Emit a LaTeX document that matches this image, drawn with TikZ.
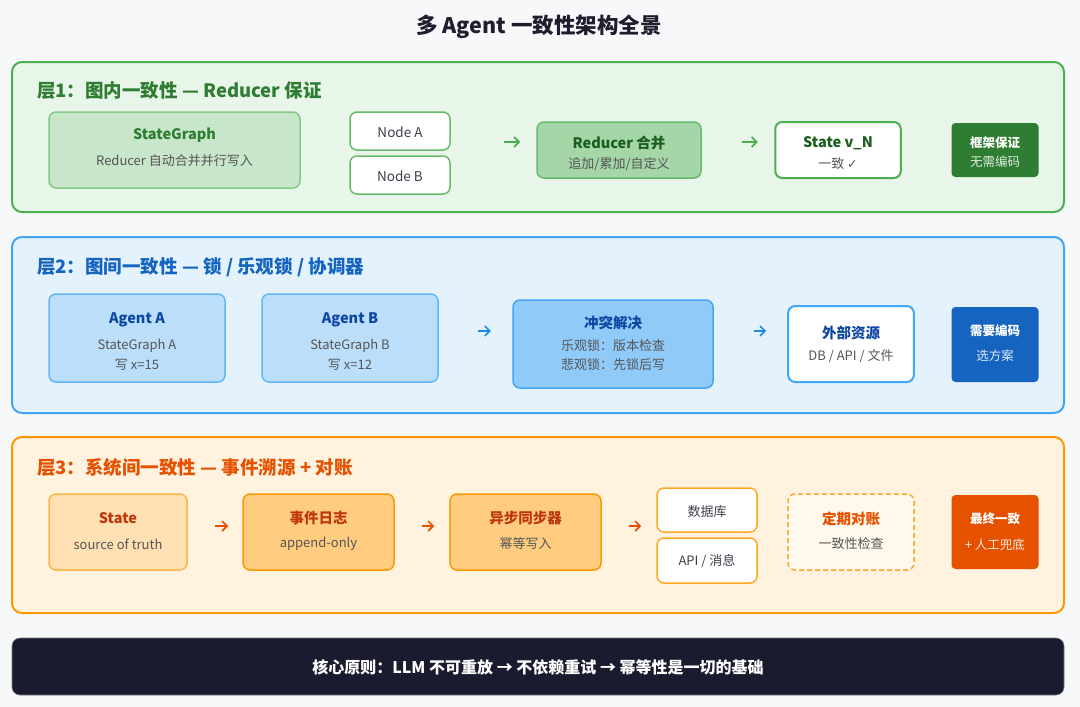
\documentclass[tikz,border=0pt]{standalone}
\usepackage{fontspec}
\setmainfont{Noto Sans CJK SC}
\newfontfamily\dejavu{DejaVu Sans}
\usetikzlibrary{arrows.meta}
\newcommand\fsz[1]{\fontsize{#1}{#1}\selectfont}
\definecolor{bgc}{HTML}{F7F8FA}
\definecolor{titlec}{HTML}{1E1E2E}
\definecolor{gray5}{HTML}{555555}
% green
\definecolor{gLfill}{HTML}{E8F5E9}
\definecolor{gLdraw}{HTML}{4CAF50}
\definecolor{gTitle}{HTML}{2E7D32}
\definecolor{gBox1}{HTML}{C8E6C9}
\definecolor{gBox2}{HTML}{A5D6A7}
\definecolor{gBord}{HTML}{66BB6A}
\definecolor{gDark}{HTML}{1B5E20}
% blue
\definecolor{bLfill}{HTML}{E3F2FD}
\definecolor{bLdraw}{HTML}{42A5F5}
\definecolor{bTitle}{HTML}{1565C0}
\definecolor{bBox1}{HTML}{BBDEFB}
\definecolor{bBox2}{HTML}{90CAF9}
\definecolor{bBord}{HTML}{64B5F6}
\definecolor{bDark}{HTML}{0D47A1}
\definecolor{bArr}{HTML}{1E88E5}
% orange
\definecolor{oLfill}{HTML}{FFF3E0}
\definecolor{oLdraw}{HTML}{FF9800}
\definecolor{oTitle}{HTML}{E65100}
\definecolor{oBox1}{HTML}{FFE0B2}
\definecolor{oBox2}{HTML}{FFCC80}
\definecolor{oBord}{HTML}{FFA726}
\definecolor{oDark}{HTML}{BF360C}
\definecolor{navy}{HTML}{1A1B2E}
\begin{document}
\begin{tikzpicture}[x=1pt,y=-1pt,
  layer/.style={rounded corners=10, line width=2, inner sep=0},
  box/.style={rounded corners=7, line width=1.5, inner sep=0},
  tagbox/.style={rounded corners=4, inner sep=0, draw=none},
  ltitle/.style={anchor=west, inner sep=0, font=\fsz{18.5}\bfseries},
  bt/.style={inner sep=0, font=\fsz{14.5}\bfseries},
  st/.style={inner sep=0, font=\fsz{13}, text=gray5},
  tt/.style={inner sep=0, font=\fsz{12.5}\bfseries, text=white},
  arrbase/.style={line width=1.6, -{Straight Barb[length=5pt,width=10pt]}},
  garr/.style={arrbase, draw=gLdraw},
  barr/.style={arrbase, draw=bArr},
  oarr/.style={arrbase, draw=oTitle}
]
\useasboundingbox (0,0) rectangle (1080,707);
\fill[bgc] (0,0) rectangle (1080,707);

% title
\node[inner sep=0, font=\fsz{21.5}\bfseries, text=titlec] (title) at (539,27) {多 Agent 一致性架构全景};

% ===== Layer 1 =====
\node[layer, fill=gLfill, draw=gLdraw, minimum width=1052, minimum height=150] (L1) at (538,137) {};
\node[ltitle, text=gTitle] (L1t) at (37,91) {层1：图内一致性 — Reducer 保证};

\node[box, fill=gBox1, draw=gBord!80, minimum width=251, minimum height=76] (sg) at (174.5,150) {};
\node[bt, text=gTitle] (sgt) at (174.5,135) {StateGraph};
\node[st] (sgs) at (174.5,160.5) {Reducer 自动合并并行写入};

\node[box, fill=white, draw=gBord, minimum width=100, minimum height=38] (na) at (400,131) {};
\node[inner sep=0, font=\fsz{13.5}, text=titlec!85] (nat) at (400,132.5) {Node A};
\node[box, fill=white, draw=gBord, minimum width=100, minimum height=38] (nb) at (400,175) {};
\node[inner sep=0, font=\fsz{13.5}, text=titlec!85] (nbt) at (400,176) {Node B};

\node[box, fill=gBox2, draw=gBord, minimum width=164, minimum height=56] (red) at (619,150) {};
\node[bt, text=gDark] (redt) at (619,143) {Reducer 合并};
\node[st] (reds) at (619,164) {追加/累加/自定义};

\node[box, fill=white, draw=gLdraw, line width=2, minimum width=125.5, minimum height=56] (sv) at (838,150) {};
\node[bt, text=gDark] (svt) at (838,143) {State v\_N};
\node[st] (svs) at (838,164) {一致 {\dejavu\fsz{12.5}✓}};

\node[tagbox, fill=gTitle, minimum width=87, minimum height=54] (fw) at (995,150) {};
\node[tt] (fwt) at (995,143) {框架保证};
\node[tt, font=\fsz{12.5}, text=white!85!gTitle] (fws) at (995,162) {无需编码};

\draw[garr, shorten <=53, shorten >=16] (na.east |- 0,142) -- (red.west |- 0,142);
\draw[garr, shorten <=40, shorten >=16.5] (red.east |- 0,142) -- (sv.west |- 0,142);

% ===== Layer 2 =====
\node[layer, fill=bLfill, draw=bLdraw, minimum width=1052, minimum height=176] (L2) at (538,325) {};
\node[ltitle, text=bTitle] (L2t) at (37,267) {层2：图间一致性 — 锁 / 乐观锁 / 协调器};

\node[box, fill=bBox1, draw=bBord, minimum width=176, minimum height=88] (aa) at (137,338) {};
\node[bt, text=bDark] (aat) at (137,320) {Agent A};
\node[st] (aas1) at (137,346) {StateGraph A};
\node[st] (aas2) at (137,365) {写 x=15};

\node[box, fill=bBox1, draw=bBord, minimum width=176, minimum height=88] (ab) at (350,338) {};
\node[bt, text=bDark] (abt) at (350,320) {Agent B};
\node[st] (abs1) at (350,346) {StateGraph B};
\node[st] (abs2) at (350,365) {写 x=12};

\node[box, fill=bBox2, draw=bLdraw, minimum width=200, minimum height=88] (cf) at (613,344) {};
\node[bt, text=bDark] (cft) at (613,323) {冲突解决};
\node[st] (cfs1) at (613,346) {乐观锁：版本检查};
\node[st] (cfs2) at (613,365) {悲观锁：先锁后写};

\node[box, fill=white, draw=bLdraw, line width=2, minimum width=125.6, minimum height=76] (ext) at (851,344) {};
\node[bt, text=bDark] (extt) at (851,333) {外部资源};
\node[st] (exts) at (851,356) {DB / API / 文件};

\node[tagbox, fill=bTitle, minimum width=87, minimum height=75] (nc) at (995,344.5) {};
\node[tt] (nct) at (995,331) {需要编码};
\node[tt, font=\fsz{12.5}, text=white!85!bTitle] (ncs) at (995,356) {选方案};

\draw[barr, shorten <=39.6, shorten >=21.3] (ab.east |- 0,331) -- (cf.west |- 0,331);
\draw[barr, shorten <=40, shorten >=21] (cf.east |- 0,331) -- (ext.west |- 0,331);

% ===== Layer 3 =====
\node[layer, fill=oLfill, draw=oLdraw, minimum width=1052, minimum height=176] (L3) at (538,525) {};
\node[ltitle, text=oTitle] (L3t) at (37,467) {层3：系统间一致性 — 事件溯源 + 对账};

\node[box, fill=oBox1, draw=oBord!85, minimum width=138, minimum height=76] (st) at (118,532) {};
\node[bt, text=oDark] (stt) at (118,518) {State};
\node[st] (sts) at (118,544) {source of truth};

\node[box, fill=oBox2, draw=oLdraw, minimum width=151, minimum height=76] (ev) at (318.5,532) {};
\node[bt, text=oDark] (evt) at (318.5,518) {事件日志};
\node[st] (evs) at (318.5,544) {append-only};

\node[box, fill=oBox2, draw=oLdraw, minimum width=151, minimum height=76] (sy) at (525.5,532) {};
\node[bt, text=oDark] (syt) at (525.5,518) {异步同步器};
\node[st] (sys) at (525.5,544) {幂等写入};

\node[box, fill=white, draw=oBord, minimum width=100, minimum height=44] (db) at (707,510) {};
\node[inner sep=0, font=\fsz{13}, text=titlec!85] (dbt) at (707,512) {数据库};
\node[box, fill=white, draw=oBord, minimum width=100, minimum height=45] (api) at (707,560.5) {};
\node[inner sep=0, font=\fsz{13}, text=titlec!85] (apit) at (707,561) {API / 消息};

\node[box, fill=oLfill!60!white, draw=oBord, dash pattern=on 5pt off 3pt, minimum width=126, minimum height=76] (rc) at (851,532) {};
\node[bt, text=oTitle] (rct) at (851,519) {定期对账};
\node[st] (rcs) at (851,544) {一致性检查};

\node[tagbox, fill=oTitle, minimum width=87, minimum height=74] (fin) at (995,532) {};
\node[tt] (fint) at (995,519) {最终一致};
\node[tt, font=\fsz{12.5}, text=white!88!oTitle] (fins) at (995,545) {+ 人工兜底};

\draw[oarr, shorten <=27, shorten >=14] (st.east |- 0,526) -- (ev.west |- 0,526);
\draw[oarr, shorten <=27, shorten >=15] (ev.east |- 0,526) -- (sy.west |- 0,526);
\draw[oarr, shorten <=27, shorten >=15] (sy.east |- 0,526) -- (db.west |- 0,526);

% ===== bottom bar =====
\node[rounded corners=8, fill=navy, draw=navy!60!white, line width=0.6, inner sep=0, minimum width=1052, minimum height=57] (bar) at (538,666.5) {};
\node[inner sep=0, font=\fsz{16}\bfseries, text=white] (bart) at (538,667) {核心原则：LLM 不可重放 → 不依赖重试 → 幂等性是一切的基础};
\end{tikzpicture}
\end{document}
